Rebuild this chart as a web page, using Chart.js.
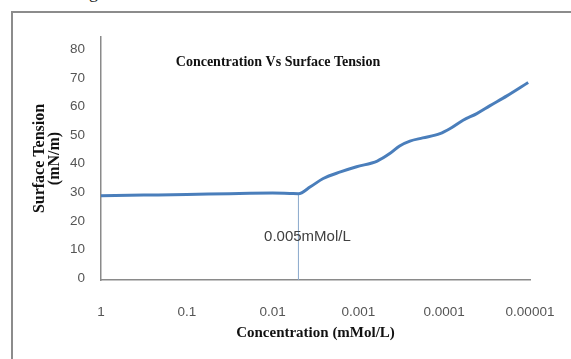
<!DOCTYPE html>
<html>
<head>
<meta charset="utf-8">
<script src="https://cdn.jsdelivr.net/npm/chart.js@4"></script>
<style>
  html, body { margin: 0; padding: 0; background: #fff; overflow: hidden; }
  #wrap { position: relative; width: 571px; height: 359px; }
  #frame { position: absolute; left: 11px; top: 11px; width: 620px; height: 420px; border: 2px solid #8c8c8c; }
  #caption { position: absolute; left: 74px; top: -18px; font: 18px "Liberation Serif", serif; color: #222; }
  canvas { position: absolute; left: 0; top: 0; }
</style>
</head>
<body>
<div id="wrap">
  <div id="caption">Fig</div>
  <canvas id="myChart" width="571" height="359"></canvas>
  <div id="frame"></div>
</div>
<script>
// concentration (mMol/L) and surface tension (mN/m)
const concentration = [1, 0.316, 0.1, 0.0316, 0.01, 0.0063, 0.005, 0.00363, 0.00257, 0.00162, 0.00105,
  0.000603, 0.000427, 0.000331, 0.000251, 0.000178, 0.000112, 0.0000851, 0.0000603, 0.0000417,
  0.0000295, 0.0000186, 0.0000105]
const surfaceTension = [29.5, 29.7, 29.9, 30.2, 30.4, 30.3, 30.2, 32.6, 35.5, 37.8, 39.6,
  41.6, 44.3, 46.9, 48.6, 49.7, 51.2, 53.0, 55.9, 58.2,
  60.9, 64.4, 69.1]

const xTickValues = [1, 0.1, 0.01, 0.001, 0.0001, 0.00001]
const xTickLabels = ['1', '0.1', '0.01', '0.001', '0.0001', '0.00001']
const yTicks = [0, 10, 20, 30, 40, 50, 60, 70, 80]

const cmcConc = 0.005
const cmcTension = 30.2
const cmcLabel = '0.005mMol/L'

const chartTitle = 'Concentration Vs Surface Tension'
const xTitle = 'Concentration (mMol/L)'
const yTitle = ['Surface Tension', '(mN/m)']

const curve = concentration.map((c, i) => ({ x: c, y: surfaceTension[i] }))
const cmcLine = [{ x: cmcConc, y: 0 }, { x: cmcConc, y: cmcTension }]

// title inside the plot + the cmc label
const extraText = {
  id: 'extraText',
  afterDraw(chart) {
    const ctx = chart.ctx
    const xs = chart.scales.x
    const ys = chart.scales.y
    ctx.save()
    ctx.fillStyle = '#111'
    ctx.font = 'bold 14px "Liberation Serif", serif'
    ctx.textAlign = 'center'
    ctx.textBaseline = 'middle'
    ctx.fillText(chartTitle, 278, 62)

    ctx.fillStyle = '#404040'
    ctx.font = '15px "Liberation Sans", sans-serif'
    ctx.fillText(cmcLabel, xs.getPixelForValue(cmcConc) + 9, ys.getPixelForValue(15))
    ctx.restore()
  }
}

const config = {
  type: 'line',
  data: {
    datasets: [
      {
        label: 'Surface Tension',
        data: curve,
        borderColor: '#4a7ebb',
        borderWidth: 3,
        pointRadius: 0,
        cubicInterpolationMode: 'monotone',
        fill: false
      },
      {
        label: 'cmc',
        data: cmcLine,
        borderColor: '#8aa8cc',
        borderWidth: 1,
        pointRadius: 0,
        fill: false
      }
    ]
  },
  options: {
    responsive: false,
    animation: false,
    events: [],
    layout: { padding: { left: 0, top: 37, right: 41, bottom: 0 } },
    plugins: {
      legend: { display: false },
      tooltip: { enabled: false }
    },
    scales: {
      x: {
        type: 'logarithmic',
        reverse: true,
        min: 0.00001,
        max: 1,
        grid: { display: false, drawTicks: false },
        border: { display: true, color: '#8a8a8a', width: 1.5 },
        afterBuildTicks: (scale) => { scale.ticks = xTickValues.map(value => ({ value })) },
        afterFit: (scale) => {
          scale.height = 79
          scale.paddingLeft = 0
          scale.paddingRight = 0
        },
        ticks: {
          autoSkip: false,
          maxRotation: 0,
          padding: 24,
          color: '#555',
          font: { family: '"Liberation Sans", sans-serif', size: 13.5 },
          callback: (value, index) => xTickLabels[index]
        },
        title: {
          display: true,
          text: xTitle,
          color: '#111',
          font: { family: '"Liberation Serif", serif', size: 15, weight: 'bold' },
          padding: { top: 0, bottom: 17 }
        }
      },
      y: {
        min: 0,
        max: 85,
        grid: { display: false, drawTicks: false },
        border: { display: true, color: '#8a8a8a', width: 1.5 },
        afterBuildTicks: (scale) => { scale.ticks = yTicks.map(value => ({ value })) },
        afterFit: (scale) => { scale.width = 101 },
        ticks: {
          padding: 16,
          labelOffset: -2,
          color: '#555',
          font: { family: '"Liberation Sans", sans-serif', size: 13.5 }
        },
        title: {
          display: true,
          text: yTitle,
          color: '#111',
          font: { family: '"Liberation Serif", serif', size: 16, weight: 'bold', lineHeight: 0.95 },
          padding: { top: 32, bottom: 0 }
        }
      }
    }
  },
  plugins: [extraText]
}

const myCanvaChart = new Chart(document.getElementById('myChart'), config)
</script>
</body>
</html>
